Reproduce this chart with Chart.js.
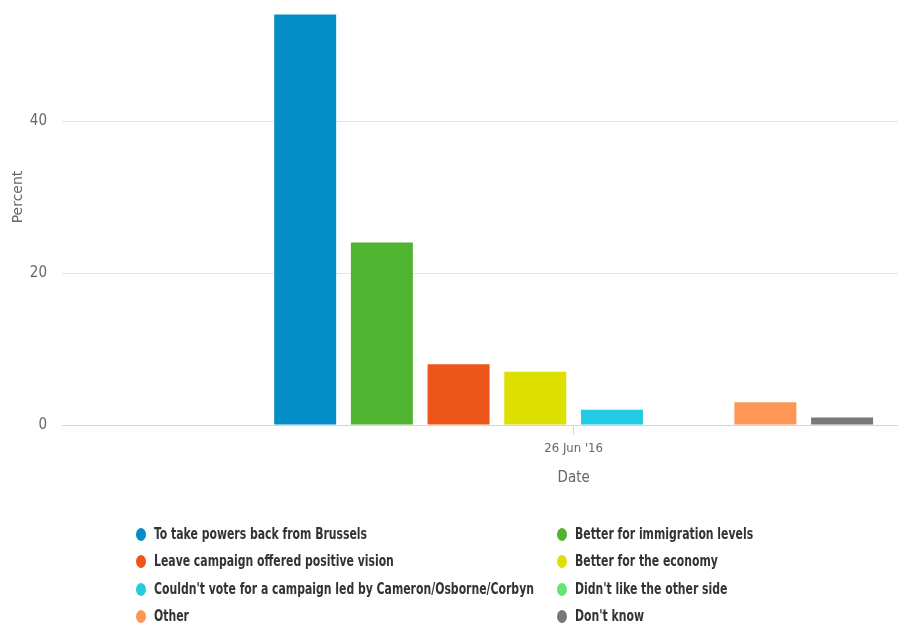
<!DOCTYPE html>
<html>
<head>
<meta charset="utf-8">
<script src="https://cdn.jsdelivr.net/npm/chart.js@4.4.0/dist/chart.umd.min.js"></script>
<style>
  body { margin: 0; background: #fff; overflow: hidden; }
  #wrap { position: absolute; left: 0; top: -31px; width: 898px; height: 526px; }
  #legend { position: absolute; left: 0; top: 0; width: 898px; height: 625px; pointer-events: none;
            font-family: 'Liberation Sans Narrow', 'DejaVu Sans Condensed', 'Arial Narrow', sans-serif;
            font-size: 16px; font-weight: bold; color: #333; }
  .item { position: absolute; white-space: nowrap; line-height: 18px; }
  .dot { display: inline-block; width: 10px; height: 13px; border-radius: 50%; vertical-align: -2px; margin-right: 8px; }
  .txt { display: inline-block; transform: scaleX(0.755); transform-origin: left center; }
</style>
</head>
<body>
<div id="wrap"><canvas id="chart"></canvas></div>
<div id="legend"></div>
<script>
// Data
const categories = ["26 Jun '16"];
const seriesNames = [
    "To take powers back from Brussels",
    "Better for immigration levels",
    "Leave campaign offered positive vision",
    "Better for the economy",
    "Couldn't vote for a campaign led by Cameron/Osborne/Corbyn",
    "Didn't like the other side",
    "Other",
    "Don't know"
];
const seriesValues = [54, 24, 8, 7, 2, 0, 3, 1];
const seriesColors = ['#058dc7', '#50b432', '#ed561b', '#dddf00', '#24cbe5', '#64e572', '#ff9655', '#777777'];
const yTitle = 'Percent';
const xTitle = 'Date';

const narrow = "'Liberation Sans Narrow', 'DejaVu Sans Condensed', 'Arial Narrow', sans-serif";

// draws the x axis title under the date tick
const xTitlePlugin = {
    id: 'xTitle',
    afterDraw(chart) {
        const x = chart.scales.x;
        const ctx = chart.ctx;
        ctx.save();
        ctx.font = '15px ' + narrow;
        ctx.fillStyle = '#666';
        ctx.textAlign = 'center';
        ctx.textBaseline = 'middle';
        ctx.fillText(xTitle, x.getPixelForValue(0), x.top + 53);
        ctx.restore();
    }
};

const ctx = document.getElementById('chart').getContext('2d');
const chart = new Chart(ctx, {
    type: 'bar',
    data: {
        datasets: seriesNames.map((name, i) => ({
            label: name,
            data: [{ x: 0, y: seriesValues[i] }],
            backgroundColor: seriesColors[i],
            categoryPercentage: 0.734,
            barPercentage: 0.808
        }))
    },
    options: {
        responsive: true,
        maintainAspectRatio: false,
        animation: false,
        layout: { padding: 0 },
        plugins: {
            legend: { display: false },
            tooltip: { enabled: false }
        },
        scales: {
            x: {
                type: 'linear',
                offset: false,
                min: -0.612,
                max: 0.388,
                afterBuildTicks: (s) => { s.ticks = categories.map((c, i) => ({ value: i })); },
                afterFit: (s) => { s.height = 70; s.paddingLeft = 0; s.paddingRight = 0; },
                ticks: {
                    callback: (v) => categories[v],
                    color: '#666',
                    padding: 6,
                    maxRotation: 0,
                    font: { family: narrow, size: 13 }
                },
                grid: { offset: false, drawOnChartArea: false, drawTicks: true, tickLength: 10, color: '#ccd6eb' },
                border: { color: '#ccd6eb', width: 1 }
            },
            y: {
                min: 0,
                max: 60,
                afterFit: (s) => { s.width = 62; s.paddingTop = 0; s.paddingBottom = 0; },
                ticks: {
                    stepSize: 20,
                    color: '#666',
                    padding: 15,
                    font: { family: narrow, size: 15 }
                },
                grid: { color: (c) => c.tick.value === 0 ? 'rgba(0,0,0,0)' : '#e6e6e6', drawTicks: false },
                border: { display: false },
                title: {
                    display: true,
                    text: yTitle,
                    color: '#666',
                    padding: { top: 10, bottom: 0 },
                    font: { family: "'DejaVu Sans', sans-serif", size: 14 }
                }
            }
        }
    },
    plugins: [xTitlePlugin]
});

// HTML legend in two columns
const legend = document.getElementById('legend');
seriesNames.forEach((name, i) => {
    const item = document.createElement('div');
    item.className = 'item';
    item.style.left = (i % 2 === 0 ? 136 : 557) + 'px';
    item.style.top = (525 + Math.floor(i / 2) * 27.3) + 'px';
    const dot = document.createElement('span');
    dot.className = 'dot';
    dot.style.background = seriesColors[i];
    const txt = document.createElement('span');
    txt.className = 'txt';
    txt.textContent = name;
    item.appendChild(dot);
    item.appendChild(txt);
    legend.appendChild(item);
});
</script>
</body>
</html>
